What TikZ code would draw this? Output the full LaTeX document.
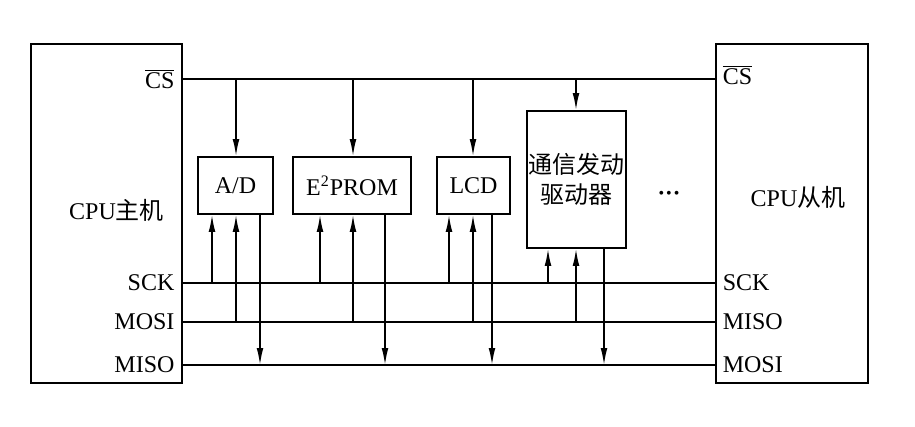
\documentclass[tikz,border=0pt]{standalone}
\usepackage{fontspec}
\setmainfont{Liberation Serif}
\newfontfamily\cjk{Noto Sans CJK SC}
\usetikzlibrary{arrows.meta}

\begin{document}
\begin{tikzpicture}[x=0.5pt, y=-0.5pt, font=\fontsize{12}{15}\selectfont]
            \tikzstyle{cpu} = [draw, line width=0.9pt, inner sep=0pt, minimum width=75.5pt, minimum height=169.5pt]
            \tikzstyle{chip} = [draw, line width=0.9pt, inner sep=0pt, minimum height=28.5pt]
            \tikzstyle{bus} = [line width=0.8pt]
            \tikzstyle{sig} = [line width=0.8pt, -{Latex[length=8.5pt, width=3.4pt]}]
            \useasboundingbox (0, 0) rectangle (915, 427);
            \coordinate (cs) at (0, 79);
            \coordinate (sck) at (0, 283);
            \coordinate (mosi) at (0, 322);
            \coordinate (miso) at (0, 365);
            \node[cpu] (master) at (106.5, 213.5) {};
            \node[cpu, minimum width=76pt] (slave) at (792, 213.5) {};
            \node (master label) at (116.5, 210) {CPU{\cjk 主机}};
            \node (slave label) at (798, 197) {CPU{\cjk 从机}};
            \node[chip, minimum width=37.5pt] (ad) at (235.5, 185.5) {A/D};
            \node[chip, minimum width=59pt] (eeprom) at (352, 185.5) {E\textsuperscript{2}PROM};
            \node[chip, minimum width=36.5pt] (lcd) at (473.5, 185.5) {LCD};
            \node[chip, minimum width=49.5pt, minimum height=68.5pt, align=center] (driver) at (576.5, 179.5) {\cjk 通信发动\\\cjk 驱动器};
            \node[font=\fontsize{8}{8}\selectfont] (dots) at (669, 195) {\textbullet\kern1pt\textbullet\kern1pt\textbullet};
            % pins
            \node[anchor=east, xshift=-0.7pt] at (master.east |- cs) {$\overline{\hbox{CS}}$};
            \node[anchor=east, xshift=-0.7pt] at (master.east |- sck) {SCK};
            \node[anchor=east, xshift=-0.7pt] at (master.east |- mosi) {MOSI};
            \node[anchor=east, xshift=-0.7pt] at (master.east |- miso) {MISO};
            \node[anchor=west, xshift=0.3pt, yshift=2pt] at (slave.west |- cs) {$\overline{\hbox{CS}}$};
            \node[anchor=west, xshift=0.3pt] at (slave.west |- sck) {SCK};
            \node[anchor=west, xshift=0.3pt] at (slave.west |- mosi) {MISO};
            \node[anchor=west, xshift=0.3pt] at (slave.west |- miso) {MOSI};
            % buses
            \draw[bus] (master.east |- cs) -- (slave.west |- cs);
            \draw[bus] (master.east |- sck) -- (slave.west |- sck);
            \draw[bus] (master.east |- mosi) -- (slave.west |- mosi);
            \draw[bus] (master.east |- miso) -- (slave.west |- miso);
            % taps
            \coordinate (ad-cs) at (236, 79);
            \coordinate (ad-sck) at (212, 283);
            \coordinate (ad-mosi) at (236, 322);
            \coordinate (ad-miso) at (260, 365);
            \coordinate (eeprom-cs) at (353, 79);
            \coordinate (eeprom-sck) at (320, 283);
            \coordinate (eeprom-mosi) at (353, 322);
            \coordinate (eeprom-miso) at (385, 365);
            \coordinate (lcd-cs) at (473, 79);
            \coordinate (lcd-sck) at (449, 283);
            \coordinate (lcd-mosi) at (473, 322);
            \coordinate (lcd-miso) at (492, 365);
            \coordinate (driver-cs) at (576, 79);
            \coordinate (driver-sck) at (548, 283);
            \coordinate (driver-mosi) at (576, 322);
            \coordinate (driver-miso) at (604, 365);
            \draw[sig] (ad-cs) -- (ad-cs |- ad.north);
            \draw[sig] (ad-sck) -- (ad-sck |- ad.south);
            \draw[sig] (ad-mosi) -- (ad-mosi |- ad.south);
            \draw[sig] (ad-miso |- ad.south) -- (ad-miso);
            \draw[sig] (eeprom-cs) -- (eeprom-cs |- eeprom.north);
            \draw[sig] (eeprom-sck) -- (eeprom-sck |- eeprom.south);
            \draw[sig] (eeprom-mosi) -- (eeprom-mosi |- eeprom.south);
            \draw[sig] (eeprom-miso |- eeprom.south) -- (eeprom-miso);
            \draw[sig] (lcd-cs) -- (lcd-cs |- lcd.north);
            \draw[sig] (lcd-sck) -- (lcd-sck |- lcd.south);
            \draw[sig] (lcd-mosi) -- (lcd-mosi |- lcd.south);
            \draw[sig] (lcd-miso |- lcd.south) -- (lcd-miso);
            \draw[sig] (driver-cs) -- (driver-cs |- driver.north);
            \draw[sig] (driver-sck) -- (driver-sck |- driver.south);
            \draw[sig] (driver-mosi) -- (driver-mosi |- driver.south);
            \draw[sig] (driver-miso |- driver.south) -- (driver-miso);
        \end{tikzpicture}
\end{document}
